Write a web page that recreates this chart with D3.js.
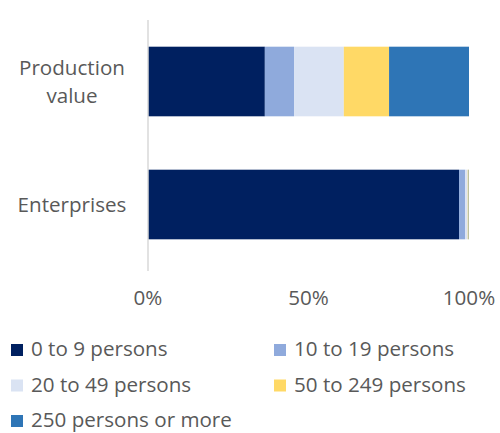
<!DOCTYPE html>
<html>
<head>
<meta charset="utf-8">
<script src="https://cdn.jsdelivr.net/npm/d3@7"></script>
<style>
  body { margin: 0; background: #fff; }
  svg { display: block; font-family: "Open Sans", Lato, sans-serif; }
</style>
</head>
<body>
<svg id="chart" width="500" height="433"></svg>
<script>
const categories = ['Production value', 'Enterprises']
const classes = ['0 to 9 persons', '10 to 19 persons', '20 to 49 persons', '50 to 249 persons', '250 persons or more']
const productionValue = [36.4, 9.1, 15.5, 14.1, 24.9]
const enterprises = [96.9, 1.9, 0.8, 0.3, 0.1]
const xTicks = [0, 50, 100]
const colors = ['#002060', '#8faadc', '#dae3f3', '#ffd966', '#2e75b6']

const svg = d3.select('#chart')
const textColor = '#595959'
const fontSize = 20.6

const x = d3.scaleLinear().domain([0, 100]).range([148, 469])
const y = d3.scaleBand().domain(categories).range([20, 266]).paddingInner(0.434).paddingOuter(0.217)

const rows = [productionValue, enterprises]

// stacked segments
rows.forEach((vals, i) => {
  let acc = 0
  const segs = vals.map((v, j) => {
    const s = { start: acc, end: acc + v, color: colors[j] }
    acc += v
    return s
  })
  svg.append('g')
    .selectAll('rect')
    .data(segs)
    .join('rect')
    .attr('x', d => x(d.start))
    .attr('width', d => Math.max(0, x(d.end) - x(d.start)))
    .attr('y', y(categories[i]))
    .attr('height', y.bandwidth())
    .attr('fill', d => d.color)
})

// vertical axis line
svg.append('line')
  .attr('x1', x(0)).attr('x2', x(0))
  .attr('y1', 20).attr('y2', 271)
  .attr('stroke', '#d9d9d9')
  .attr('stroke-width', 1.5)

// category labels
const catLines = { 'Production value': ['Production', 'value'], 'Enterprises': ['Enterprises'] }
categories.forEach(c => {
  const lines = catLines[c]
  const cy = y(c) + y.bandwidth() / 2
  const t = svg.append('text')
    .attr('text-anchor', 'middle')
    .attr('fill', textColor)
    .attr('font-size', fontSize)
  lines.forEach((l, k) => {
    t.append('tspan')
      .attr('x', 72)
      .attr('y', cy + (k - (lines.length - 1) / 2) * 28 + 7)
      .text(l)
  })
})

// x tick labels
svg.append('g')
  .selectAll('text')
  .data(xTicks)
  .join('text')
  .attr('x', d => x(d))
  .attr('y', 305)
  .attr('text-anchor', 'middle')
  .attr('fill', textColor)
  .attr('font-size', fontSize)
  .text(d => d + '%')

// legend
const legend = svg.append('g')
classes.forEach((c, i) => {
  const col = i % 2
  const row = Math.floor(i / 2)
  const lx = col === 0 ? 11 : 274
  const ly = 350 + row * 35.5
  legend.append('rect')
    .attr('x', lx).attr('y', ly - 6)
    .attr('width', 12).attr('height', 12)
    .attr('fill', colors[i])
  legend.append('text')
    .attr('x', lx + 20).attr('y', ly + 6)
    .attr('fill', textColor)
    .attr('font-size', fontSize)
    .text(c)
})
</script>
</body>
</html>
